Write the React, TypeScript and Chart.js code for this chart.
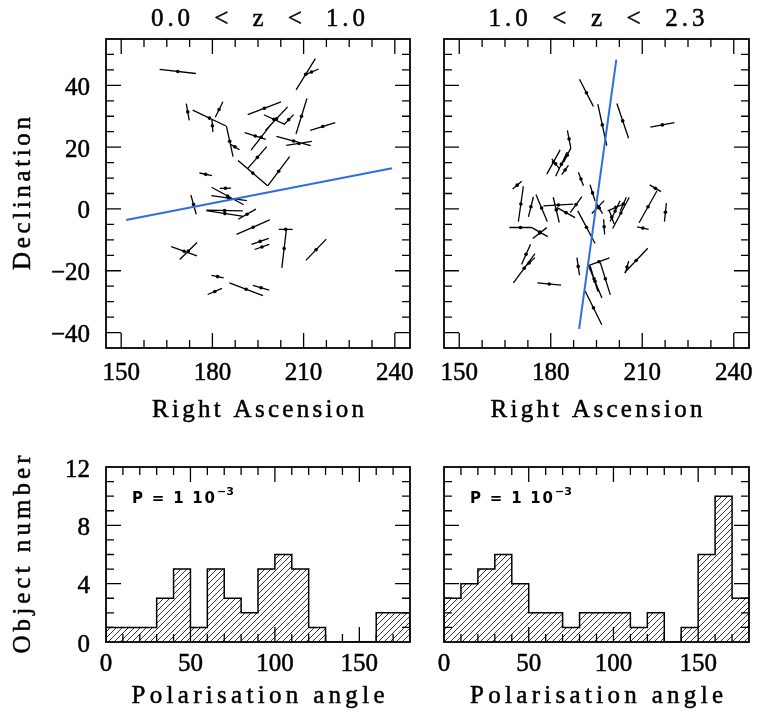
import React, { useEffect, useRef } from "react";
import { Chart, registerables } from "chart.js";
Chart.register(...registerables);

// ---------- data: low redshift (0.0 < z < 1.0) polarisation vectors ----------
const raLo = [168.6, 210.7, 212.6, 171.9, 179.0, 182.2, 180.0, 185.7, 187.4, 197.1, 200.2, 205.1, 196.0, 201.1, 194.1, 209.3, 216.3, 206.7, 208.5, 193.3, 194.8, 201.8, 177.8, 184.3, 185.0, 185.5, 173.8, 184.0, 184.1, 191.4, 193.4, 170.7, 172.1, 195.7, 196.3, 204.1, 203.6, 214.1, 181.7, 180.8, 191.1, 196.0];
const decLo = [44.5, 43.6, 44.3, 31.4, 29.4, 32.2, 26.9, 21.9, 20.1, 32.6, 29.0, 28.9, 23.2, 29.2, 23.6, 30.0, 26.7, 22.0, 21.2, 11.6, 16.7, 12.2, 11.2, 6.7, 4.2, 3.5, 1.4, -0.5, -1.5, -1.7, -5.9, -13.7, -13.6, -10.5, -12.3, -6.6, -12.8, -13.2, -21.9, -26.7, -26.0, -25.5];
const angLo = [173.7, 57.8, 22.7, 100.2, 155.0, 63.4, 94.6, 102.5, 148.7, 20.8, 155.8, 45.0, 51.7, 46.3, 162.6, 72.6, 17.0, 164.9, 8.9, 139.9, 48.3, 52.8, 168.1, 1.7, 151.8, 172.0, 105.7, 179.0, 171.4, 29.1, 23.3, 160.3, 43.9, 19.1, 18.8, 0.0, 83.1, 45.9, 167.8, 22.7, 159.4, 164.1];
const lenLo = [12.0, 11.9, 5.1, 5.5, 12.1, 5.6, 4.0, 10.1, 3.6, 11.7, 7.2, 4.6, 10.6, 10.6, 7.3, 12.0, 8.6, 11.7, 8.5, 12.7, 9.3, 11.9, 4.2, 3.7, 12.0, 11.8, 6.5, 12.0, 12.4, 6.7, 11.9, 9.0, 7.9, 6.0, 5.1, 4.6, 12.6, 9.6, 4.1, 5.1, 11.8, 5.6];
const fitLoRa = [151.6, 239.1];
const fitLoDec = [-3.6, 13.2];

// ---------- data: high redshift (1.0 < z < 2.3) polarisation vectors ----------
const raHi = [191.7, 196.9, 203.6, 216.6, 186.0, 180.9, 183.5, 181.6, 184.7, 185.4, 189.9, 193.7, 214.3, 211.9, 217.6, 210.2, 169.0, 170.2, 173.5, 177.0, 182.5, 181.8, 185.0, 188.3, 191.7, 195.5, 195.9, 197.5, 201.3, 201.1, 203.0, 203.8, 170.1, 176.4, 176.4, 171.9, 171.3, 172.9, 179.5, 189.0, 194.5, 197.9, 194.2, 195.8, 208.0, 205.0, 194.0, 200.0];
const decHi = [37.6, 27.2, 28.5, 27.2, 22.6, 15.2, 14.5, 14.6, 12.6, 17.4, 9.7, 5.2, 6.7, 0.7, -1.1, -6.2, 7.7, 1.6, 0.7, 0.3, 1.3, -0.3, -1.2, 1.4, -5.9, 0.6, 0.3, -5.8, 0.5, -0.7, -1.3, 1.6, -6.0, -7.5, -7.8, -14.7, -19.2, -17.5, -24.3, -18.6, -23.4, -22.6, -22.6, -17.1, -16.7, -18.8, -32.0, -2.7];
const angHi = [117.4, 102.4, 108.8, 10.2, 100.9, 60.9, 64.1, 127.5, 53.5, 62.9, 110.6, 107.4, 149.5, 60.4, 83.8, 167.1, 40.4, 81.9, 76.0, 113.0, 3.2, 103.5, 151.4, 53.9, 118.2, 45.8, 121.2, 93.8, 22.6, 64.2, 61.5, 65.8, 0.0, 150.6, 37.3, 65.8, 53.2, 42.4, 174.4, 98.7, 112.8, 107.5, 107.0, 20.1, 46.2, 74.1, 116.6, 110.2];
const lenHi = [9.9, 13.7, 11.9, 8.0, 5.8, 9.0, 8.7, 4.1, 3.7, 5.3, 4.7, 5.5, 4.3, 11.9, 6.0, 3.9, 3.9, 11.6, 6.7, 9.5, 9.8, 8.4, 6.8, 6.5, 12.0, 5.8, 4.2, 4.9, 5.7, 7.5, 11.4, 4.8, 7.3, 6.0, 5.8, 7.2, 11.8, 5.2, 7.8, 5.7, 11.8, 10.9, 8.6, 7.3, 11.0, 4.0, 12.2, 4.4];
const fitHiRa = [189.3, 201.5];
const fitHiDec = [-38.8, 48.3];

// ---------- histograms of polarisation angle ----------
const binStarts = [0, 10, 20, 30, 40, 50, 60, 70, 80, 90, 100, 110, 120, 130, 140, 150, 160, 170];
const countsLo = [1, 1, 1, 3, 5, 1, 5, 3, 2, 5, 6, 5, 1, 0, 0, 0, 2, 2];
const countsHi = [3, 4, 5, 6, 4, 2, 2, 1, 2, 2, 2, 1, 2, 0, 1, 6, 10, 3];
const binWidth = 10;

// ---------- ticks ----------
const raTicks = [150, 180, 210, 240];
const decTicks = [-40, -20, 0, 20, 40];
const angleTicks = [0, 50, 100, 150];
const countTicks = [0, 4, 8, 12];

const W = 758;
const H = 716;
const SERIF = "'Liberation Serif', 'Times New Roman', serif";
const SANS = "'DejaVu Sans', 'Liberation Sans', sans-serif";
const BLUE = "#2a6fe4";

const fmt = (v: number) => (v < 0 ? "\u2212" + Math.abs(v) : String(v));

function makeHatch(): any {
  const c = document.createElement("canvas");
  c.width = 6;
  c.height = 6;
  const g = c.getContext("2d")!;
  g.strokeStyle = "#000";
  g.lineWidth = 0.8;
  g.beginPath();
  g.moveTo(0, 6);
  g.lineTo(6, 0);
  g.moveTo(-1, 1);
  g.lineTo(1, -1);
  g.moveTo(5, 7);
  g.lineTo(7, 5);
  g.stroke();
  return g.createPattern(c, "repeat");
}

// text with a thin outline so the strokes read like the plotting font
function heavyText(ctx: any, s: string, x: number, y: number, stroke: number) {
  ctx.fillText(s, x, y);
  if (stroke > 0) {
    ctx.lineWidth = stroke;
    ctx.strokeStyle = "#000";
    ctx.lineJoin = "round";
    ctx.strokeText(s, x, y);
  }
}

const framePlugin = {
  id: "frame",
  afterDatasetsDraw(chart: any, _a: any, opts: any) {
    const { ctx, chartArea: a } = chart;
    const xs = chart.scales.x;
    const ys = chart.scales.y;
    ctx.save();
    ctx.strokeStyle = "#000";
    ctx.lineWidth = 1.3;
    ctx.beginPath();
    const isMajor = (v: number, m: number) => Math.abs(v / m - Math.round(v / m)) < 1e-6;
    for (let k = Math.ceil(xs.min / opts.xMinor - 1e-9); k * opts.xMinor <= xs.max + 1e-9; k++) {
      const v = k * opts.xMinor;
      const p = xs.getPixelForValue(v);
      if (Math.abs(p - a.left) < 2 || Math.abs(p - a.right) < 2) continue;
      const len = isMajor(v, opts.xMajor) ? 15 : 8;
      ctx.moveTo(p, a.bottom);
      ctx.lineTo(p, a.bottom - len);
      ctx.moveTo(p, a.top);
      ctx.lineTo(p, a.top + len);
    }
    for (let k = Math.ceil(ys.min / opts.yMinor - 1e-9); k * opts.yMinor <= ys.max + 1e-9; k++) {
      const v = k * opts.yMinor;
      const p = ys.getPixelForValue(v);
      if (Math.abs(p - a.top) < 2 || Math.abs(p - a.bottom) < 2) continue;
      const len = isMajor(v, opts.yMajor) ? 15 : 8;
      ctx.moveTo(a.left, p);
      ctx.lineTo(a.left + len, p);
      ctx.moveTo(a.right, p);
      ctx.lineTo(a.right - len, p);
    }
    ctx.stroke();
    ctx.lineWidth = 1.8;
    ctx.strokeRect(a.left, a.top, a.right - a.left, a.bottom - a.top);
    ctx.restore();
  },
  afterDraw(chart: any, _a: any, opts: any) {
    const ctx = chart.ctx;
    const a = chart.chartArea;
    // tick labels, placed through the chart's own scales
    ctx.save();
    ctx.fillStyle = "#000";
    ctx.font = `25px ${SERIF}`;
    ctx.textBaseline = "alphabetic";
    ctx.textAlign = "center";
    for (const v of opts.xLabels || []) {
      heavyText(ctx, fmt(v), chart.scales.x.getPixelForValue(v), a.bottom + opts.xLabelOffset, 0.5);
    }
    ctx.textAlign = "right";
    for (const v of opts.yLabels || []) {
      heavyText(ctx, fmt(v), a.left - 16, chart.scales.y.getPixelForValue(v) + 9.5, 0.5);
    }
    ctx.restore();
    // titles and annotations
    for (const t of opts.texts || []) {
      ctx.save();
      ctx.fillStyle = "#000";
      ctx.font = `${t.weight || "normal"} ${t.size || 25}px ${t.family || SERIF}`;
      ctx.textBaseline = "alphabetic";
      ctx.textAlign = "left";
      ctx.translate(t.x, t.y);
      if (t.rot) ctx.rotate(t.rot);
      const w0 = ctx.measureText(t.text).width;
      let sp = 0;
      if (t.width && t.text.length > 1) sp = (t.width - w0) / (t.text.length - 1);
      const w = t.width || w0;
      (ctx as any).letterSpacing = sp + "px";
      const x0 = t.align === "left" ? 0 : -w / 2;
      heavyText(ctx, t.text, x0, 0, t.weight ? 0 : 0.5);
      if (t.sup) {
        (ctx as any).letterSpacing = "0px";
        ctx.font = `${t.weight || "normal"} ${t.supSize || 12}px ${t.family || SERIF}`;
        ctx.fillText(t.sup, x0 + w + 2, -t.supRise);
      }
      ctx.restore();
    }
  },
};

// box = [chartLeft, chartTop, chartRight, chartBottom]
function area(box: number[]) {
  const [L, T, R, B] = box;
  return { left: L, top: T, right: W - R, bottom: H - B };
}

function vectorConfig(
  ra: number[], dec: number[], ang: number[], len: number[],
  fitRa: number[], fitDec: number[],
  box: number[], showY: boolean, texts: any[]
): any {
  const segs: any[] = [];
  const dots: any[] = [];
  for (let i = 0; i < ra.length; i++) {
    const t = (ang[i] * Math.PI) / 180;
    const h = len[i] / 2;
    segs.push({ x: ra[i] - h * Math.cos(t), y: dec[i] - h * Math.sin(t) });
    segs.push({ x: ra[i] + h * Math.cos(t), y: dec[i] + h * Math.sin(t) });
    segs.push({ x: ra[i], y: null });
    dots.push({ x: ra[i], y: dec[i] });
  }
  const fit = fitRa.map((x, i) => ({ x, y: fitDec[i] }));
  return {
    type: "scatter",
    data: {
      datasets: [
        { data: fit, showLine: true, borderColor: BLUE, borderWidth: 2, pointRadius: 0, tension: 0 },
        { data: dots, showLine: false, pointRadius: 1.8, pointBackgroundColor: "#000", pointBorderWidth: 0 },
        { data: segs, showLine: true, spanGaps: false, borderColor: "#000", borderWidth: 1.3, pointRadius: 0, tension: 0 },
      ],
    },
    options: {
      responsive: false,
      animation: false,
      devicePixelRatio: 1,
      events: [],
      layout: { padding: area(box) },
      scales: {
        x: { type: "linear", min: 145, max: 245, display: false },
        y: { type: "linear", min: -45, max: 55, display: false },
      },
      plugins: {
        legend: { display: false },
        tooltip: { enabled: false },
        frame: {
          xMinor: 7.5, xMajor: 30, yMinor: 5, yMajor: 20,
          xLabels: raTicks, xLabelOffset: 32, yLabels: showY ? decTicks : [], texts,
        },
      },
    },
    plugins: [framePlugin],
  };
}

function histConfig(counts: number[], hatch: any, box: number[], showY: boolean, texts: any[]): any {
  const bars = binStarts.map((s, i) => ({ x: s + binWidth / 2, y: counts[i] }));
  const steps: any[] = [{ x: binStarts[0], y: 0 }];
  binStarts.forEach((s, i) => steps.push({ x: s + binWidth, y: counts[i] }));
  steps.push({ x: binStarts[binStarts.length - 1] + binWidth, y: 0 });
  return {
    type: "bar",
    data: {
      datasets: [
        { type: "line", data: steps, stepped: "after", borderColor: "#000", borderWidth: 1.5, pointRadius: 0, fill: false },
        { type: "bar", data: bars, backgroundColor: hatch, borderWidth: 0, barPercentage: 1, categoryPercentage: 1 },
      ],
    },
    options: {
      responsive: false,
      animation: false,
      devicePixelRatio: 1,
      events: [],
      layout: { padding: area(box) },
      scales: {
        x: { type: "linear", min: 0, max: 180, offset: false, display: false },
        y: { type: "linear", min: 0, max: 12, display: false },
      },
      plugins: {
        legend: { display: false },
        tooltip: { enabled: false },
        frame: {
          xMinor: 10, xMajor: 50, yMinor: 1, yMajor: 4,
          xLabels: angleTicks, xLabelOffset: 29, yLabels: showY ? countTicks : [], texts,
        },
      },
    },
    plugins: [framePlugin],
  };
}

const pLabel = (x: number) => ({
  text: "P = 1 10", x, y: 503, width: 83, align: "left", size: 15, weight: "bold", family: SANS,
  sup: "\u22123", supSize: 11, supRise: 8,
});

export default function App() {
  const r1 = useRef<HTMLCanvasElement>(null);
  const r2 = useRef<HTMLCanvasElement>(null);
  const r3 = useRef<HTMLCanvasElement>(null);
  const r4 = useRef<HTMLCanvasElement>(null);

  useEffect(() => {
    const hatch = makeHatch();
    const charts = [
      new Chart(r1.current!, vectorConfig(raLo, decLo, angLo, lenLo, fitLoRa, fitLoDec, [106, 39, 410, 348], true, [
        { text: "0.0  <  z  <  1.0", x: 258, y: 26, width: 214 },
        { text: "Right Ascension", x: 258, y: 417, width: 212 },
        { text: "Declination", x: 30, y: 193.5, width: 153, rot: -Math.PI / 2 },
      ])),
      new Chart(r2.current!, vectorConfig(raHi, decHi, angHi, lenHi, fitHiRa, fitHiDec, [444, 39, 749, 348], false, [
        { text: "1.0  <  z  <  2.3", x: 596.5, y: 26, width: 216 },
        { text: "Right Ascension", x: 596.5, y: 417, width: 212 },
      ])),
      new Chart(r3.current!, histConfig(countsLo, hatch, [106, 467, 410, 642], true, [
        { text: "Object number", x: 30, y: 554.5, width: 198, rot: -Math.PI / 2 },
        { text: "Polarisation angle", x: 258, y: 703, width: 253 },
        pLabel(132),
      ])),
      new Chart(r4.current!, histConfig(countsHi, hatch, [444, 467, 749, 642], false, [
        { text: "Polarisation angle", x: 596.5, y: 703, width: 253 },
        pLabel(470),
      ])),
    ];
    return () => charts.forEach((c) => c.destroy());
  }, []);

  const cs: React.CSSProperties = { position: "absolute", left: 0, top: 0, width: W, height: H };
  return (
    <div style={{ position: "absolute", left: 0, top: 0, width: W, height: H, background: "#fff" }}>
      <canvas ref={r1} width={W} height={H} style={cs} />
      <canvas ref={r2} width={W} height={H} style={cs} />
      <canvas ref={r3} width={W} height={H} style={cs} />
      <canvas ref={r4} width={W} height={H} style={cs} />
    </div>
  );
}
